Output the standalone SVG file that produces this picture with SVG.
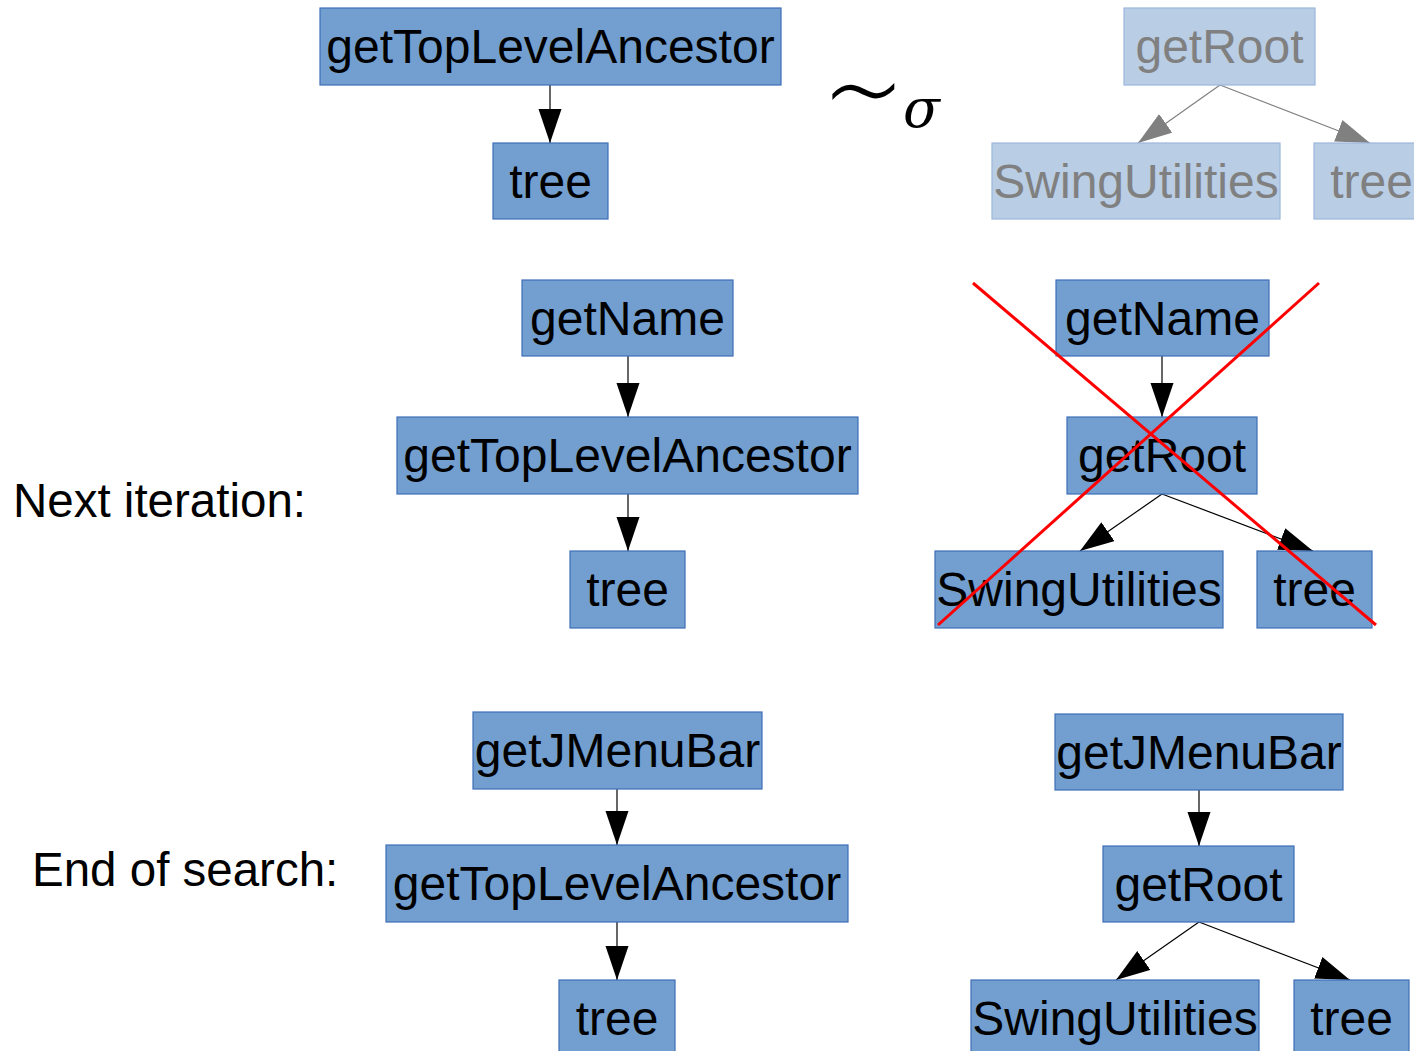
<svg xmlns="http://www.w3.org/2000/svg" width="1414" height="1051" viewBox="0 0 1414 1051">
  <style>
    .box { fill: #729fcf; stroke: #3f6fb8; stroke-width: 1.2; }
    .ghost { fill: #b9cde5; stroke: #9bb6dd; stroke-width: 1.2; }
    .lbl { font-family: "Liberation Sans", Arial, sans-serif; font-size: 48px; fill: #000; text-anchor: middle; }
    .glbl { font-family: "Liberation Sans", Arial, sans-serif; font-size: 48px; fill: #808080; text-anchor: middle; }
    .cap { font-family: "Liberation Sans", Arial, sans-serif; font-size: 47.5px; fill: #000; }
    .edge { stroke: #000; stroke-width: 1.2; fill: none; marker-end: url(#arrow); }
    .gedge { stroke: #808080; stroke-width: 1.2; fill: none; marker-end: url(#garrow); }
    .cross { stroke: #ff0000; stroke-width: 3; }
  </style>
  <defs>
    <marker id="arrow" markerUnits="userSpaceOnUse" markerWidth="34" markerHeight="24" refX="34" refY="11.5" orient="auto">
      <path d="M0,0 L34,11.5 L0,23 z" fill="#000"/>
    </marker>
    <marker id="garrow" markerUnits="userSpaceOnUse" markerWidth="34" markerHeight="24" refX="34" refY="11.5" orient="auto">
      <path d="M0,0 L34,11.5 L0,23 z" fill="#808080"/>
    </marker>
  </defs>
  <rect width="1414" height="1051" fill="#fff"/>

  <!-- row captions -->
  <text class="cap" x="13" y="517">Next iteration:</text>
  <text class="cap" x="32" y="886">End of search:</text>

  <!-- similarity symbol -->
  <text x="822" y="137" font-family="DejaVu Sans, sans-serif" font-weight="200" font-size="130">∼</text>
  <text x="903" y="127" font-family="DejaVu Serif, serif" font-style="italic" font-size="54">σ</text>

  <!-- connectors -->
  <g id="connectors">
    <line class="edge" x1="550" y1="85" x2="550" y2="143"/>
    <line class="gedge" x1="1220" y1="85" x2="1138" y2="143"/>
    <line class="gedge" x1="1220" y1="85" x2="1370" y2="143"/>

    <line class="edge" x1="628" y1="356" x2="628" y2="417"/>
    <line class="edge" x1="628" y1="494" x2="628" y2="551"/>

    <line class="edge" x1="1162" y1="356" x2="1162" y2="417"/>
    <line class="edge" x1="1162" y1="494" x2="1080" y2="551"/>
    <line class="edge" x1="1162" y1="494" x2="1313" y2="551"/>

    <line class="edge" x1="617" y1="789" x2="617" y2="845"/>
    <line class="edge" x1="617" y1="922" x2="617" y2="980"/>

    <line class="edge" x1="1199" y1="790" x2="1199" y2="846"/>
    <line class="edge" x1="1199" y1="922" x2="1116" y2="980"/>
    <line class="edge" x1="1199" y1="922" x2="1350" y2="980"/>
  </g>

  <!-- top row -->
  <g id="n_top_gtla"><rect class="box" x="320" y="8" width="461" height="77"/><text class="lbl" x="550.5" y="63">getTopLevelAncestor</text></g>
  <g id="n_top_tree"><rect class="box" x="493" y="143" width="115" height="76"/><text class="lbl" x="550.5" y="198">tree</text></g>

  <g id="n_top_getRoot"><rect class="ghost" x="1124" y="8" width="191" height="77"/><text class="glbl" x="1219.5" y="63">getRoot</text></g>
  <g id="n_top_swing"><rect class="ghost" x="992" y="143" width="288" height="76"/><text class="glbl" x="1136" y="198">SwingUtilities</text></g>
  <g id="n_top_tree2"><rect class="ghost" x="1314" y="143" width="115" height="76"/><text class="glbl" x="1371.5" y="198">tree</text></g>

  <!-- next iteration, left -->
  <g id="n_mid_getName"><rect class="box" x="522" y="280" width="211" height="76"/><text class="lbl" x="627.5" y="335">getName</text></g>
  <g id="n_mid_gtla"><rect class="box" x="397" y="417" width="461" height="77"/><text class="lbl" x="627.5" y="472">getTopLevelAncestor</text></g>
  <g id="n_mid_tree"><rect class="box" x="570" y="551" width="115" height="77"/><text class="lbl" x="627.5" y="606">tree</text></g>

  <!-- next iteration, right (rejected) -->
  <g id="n_midr_getName"><rect class="box" x="1056" y="280" width="213" height="76"/><text class="lbl" x="1162.5" y="335">getName</text></g>
  <g id="n_midr_getRoot"><rect class="box" x="1067" y="417" width="190" height="77"/><text class="lbl" x="1162" y="472">getRoot</text></g>
  <g id="n_midr_swing"><rect class="box" x="935" y="551" width="288" height="77"/><text class="lbl" x="1079" y="606">SwingUtilities</text></g>
  <g id="n_midr_tree"><rect class="box" x="1257" y="551" width="115" height="77"/><text class="lbl" x="1314.5" y="606">tree</text></g>

  <!-- rejection cross -->
  <g id="cross">
    <line class="cross" x1="973" y1="283" x2="1376" y2="625"/>
    <line class="cross" x1="1319" y1="283" x2="938" y2="625"/>
  </g>

  <!-- end of search, left -->
  <g id="n_end_getJMenuBar"><rect class="box" x="473" y="712" width="289" height="77"/><text class="lbl" x="617.5" y="767">getJMenuBar</text></g>
  <g id="n_end_gtla"><rect class="box" x="386" y="845" width="462" height="77"/><text class="lbl" x="617" y="900">getTopLevelAncestor</text></g>
  <g id="n_end_tree"><rect class="box" x="559" y="980" width="116" height="77"/><text class="lbl" x="617" y="1035">tree</text></g>

  <!-- end of search, right -->
  <g id="n_endr_getJMenuBar"><rect class="box" x="1055" y="714" width="288" height="76"/><text class="lbl" x="1199" y="769">getJMenuBar</text></g>
  <g id="n_endr_getRoot"><rect class="box" x="1103" y="846" width="191" height="76"/><text class="lbl" x="1198.5" y="901">getRoot</text></g>
  <g id="n_endr_swing"><rect class="box" x="971" y="980" width="288" height="77"/><text class="lbl" x="1115" y="1035">SwingUtilities</text></g>
  <g id="n_endr_tree"><rect class="box" x="1294" y="980" width="115" height="77"/><text class="lbl" x="1351.5" y="1035">tree</text></g>
</svg>
